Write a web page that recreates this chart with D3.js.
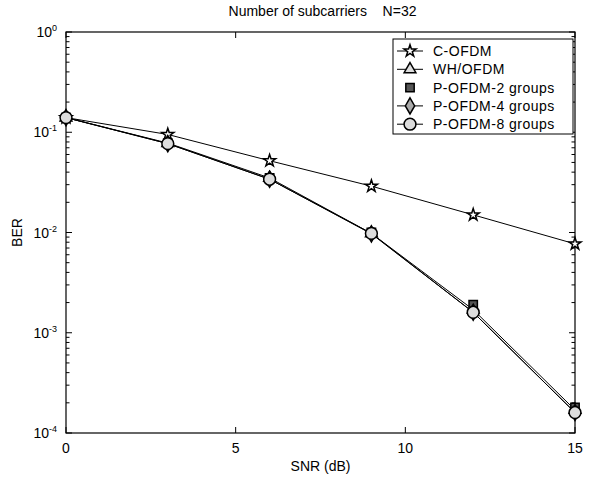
<!DOCTYPE html>
<html>
<head>
<meta charset="utf-8">
<script src="https://cdn.jsdelivr.net/npm/d3@7"></script>
<style>
  body { margin: 0; background: #fff; }
  text { font-family: Arial, "Liberation Sans", sans-serif; fill: #000; }
</style>
</head>
<body>
<div id="chart"></div>
<script>
// data
var snr = [0, 3, 6, 9, 12, 15];
var cOfdm = [0.14, 0.095, 0.052, 0.029, 0.015, 0.0077];
var whOfdm = [0.14, 0.078, 0.035, 0.0098, 0.0017, 0.00017];
var pOfdm2 = [0.14, 0.078, 0.035, 0.0100, 0.0019, 0.00018];
var pOfdm4 = [0.14, 0.077, 0.034, 0.0097, 0.0016, 0.00016];
var pOfdm8 = [0.14, 0.077, 0.034, 0.0098, 0.0016, 0.00016];
var seriesNames = ["C-OFDM", "WH/OFDM", "P-OFDM-2 groups", "P-OFDM-4 groups", "P-OFDM-8 groups"];
var seriesSymbols = ["star", "triangle", "square", "diamond", "circle"];
var xTicks = [0, 5, 10, 15];
var yDecades = [-4, -3, -2, -1, 0];

var W = 589, H = 479;
var margin = {top: 32, right: 14, bottom: 46, left: 66};
var width = W - margin.left - margin.right;
var height = H - margin.top - margin.bottom;

var svg = d3.select("#chart").append("svg")
    .attr("width", W).attr("height", H);

var g = svg.append("g")
    .attr("transform", "translate(" + margin.left + "," + margin.top + ")");

var x = d3.scaleLinear().domain([0, 15]).range([0, width]);
var y = d3.scaleLog().domain([1e-4, 1]).range([height, 0]);

// minor + major log ticks
var logTicks = [];
for (var e = -4; e < 0; e++) {
    for (var m = 1; m < 10; m++) logTicks.push(m * Math.pow(10, e));
}
logTicks.push(1);

var axisG = g.append("g");
logTicks.forEach(function (v) {
    var major = Math.abs(Math.log10(v) - Math.round(Math.log10(v))) < 1e-9;
    var len = major ? 6 : 3.5;
    axisG.append("line").attr("x1", 0).attr("x2", len)
        .attr("y1", y(v)).attr("y2", y(v)).attr("stroke", "#000");
    axisG.append("line").attr("x1", width).attr("x2", width - len)
        .attr("y1", y(v)).attr("y2", y(v)).attr("stroke", "#000");
});
xTicks.forEach(function (v) {
    axisG.append("line").attr("x1", x(v)).attr("x2", x(v))
        .attr("y1", height).attr("y2", height - 6).attr("stroke", "#000");
    axisG.append("line").attr("x1", x(v)).attr("x2", x(v))
        .attr("y1", 0).attr("y2", 6).attr("stroke", "#000");
    axisG.append("text").attr("x", x(v)).attr("y", height + 20)
        .attr("text-anchor", "middle").style("font-size", "14px").text(v);
});
yDecades.forEach(function (e) {
    var t = axisG.append("text").attr("x", -9).attr("y", y(Math.pow(10, e)) + 5)
        .attr("text-anchor", "end").style("font-size", "14px");
    t.append("tspan").text("10");
    t.append("tspan").attr("dy", -6).style("font-size", "9px").text(e === 0 ? "0" : "-" + (-e));
});

g.append("rect").attr("width", width).attr("height", height)
    .attr("fill", "none").attr("stroke", "#000").attr("stroke-width", 1.2);

svg.append("text").attr("x", margin.left + width / 2 + 2).attr("y", 16)
    .attr("text-anchor", "middle").style("font-size", "14px")
    .style("white-space", "pre").attr("xml:space", "preserve")
    .text("Number of subcarriers    N=32");
svg.append("text").attr("x", margin.left + width / 2).attr("y", H - 8)
    .attr("text-anchor", "middle").style("font-size", "14px").text("SNR (dB)");
svg.append("text").attr("transform", "translate(22," + (margin.top + height / 2) + ") rotate(-90)")
    .attr("text-anchor", "middle").style("font-size", "14px").text("BER");

var symbolTypes = {
    star: d3.symbolStar, triangle: d3.symbolTriangle, square: d3.symbolSquare,
    diamond: d3.symbolDiamond, circle: d3.symbolCircle
};
var symbolSizes = {star: 45, triangle: 60, square: 70, diamond: 75, circle: 110};
var fills = {star: "#fff", triangle: "#ddd", square: "#555", diamond: "#aaa", circle: "#ddd"};

var allSeries = [cOfdm, whOfdm, pOfdm2, pOfdm4, pOfdm8];
var line = d3.line().x(function (d, i) { return x(snr[i]); }).y(function (d) { return y(d); });

allSeries.forEach(function (vals, k) {
    var sym = seriesSymbols[k];
    var sg = g.append("g");
    if (sym !== "square") {
        sg.append("path").attr("d", line(vals)).attr("fill", "none")
            .attr("stroke", "#000").attr("stroke-width", 1);
    }
    sg.selectAll("path.pt").data(vals).enter().append("path")
        .attr("class", "pt")
        .attr("transform", function (d, i) { return "translate(" + x(snr[i]) + "," + y(d) + ")"; })
        .attr("d", d3.symbol().type(symbolTypes[sym]).size(symbolSizes[sym]))
        .attr("fill", fills[sym]).attr("stroke", "#000").attr("stroke-width", 1.5);
});

// legend
var lg = svg.append("g").attr("transform", "translate(393,39)");
lg.append("rect").attr("width", 180).attr("height", 95)
    .attr("fill", "#fff").attr("stroke", "#000").attr("stroke-width", 1);
seriesNames.forEach(function (name, k) {
    var sym = seriesSymbols[k];
    var yy = 12 + k * 18.3;
    if (sym !== "square") {
        lg.append("line").attr("x1", 4).attr("x2", 30).attr("y1", yy).attr("y2", yy)
            .attr("stroke", "#000");
    }
    lg.append("path").attr("transform", "translate(17," + yy + ")")
        .attr("d", d3.symbol().type(symbolTypes[sym]).size(symbolSizes[sym]))
        .attr("fill", fills[sym]).attr("stroke", "#000").attr("stroke-width", 1.5);
    lg.append("text").attr("x", 40).attr("y", yy + 5).style("font-size", "14px")
        .style("letter-spacing", "0.5px").text(name);
});
</script>
</body>
</html>
